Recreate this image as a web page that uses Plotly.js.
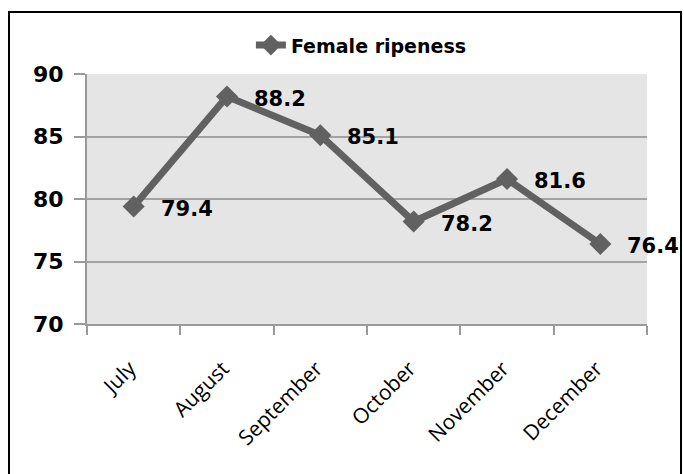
<!DOCTYPE html>
<html>
<head>
<meta charset="utf-8">
<script src="https://cdn.plot.ly/plotly-3.0.1.min.js"></script>
<style>
  html, body { margin: 0; padding: 0; background: #ffffff; }
  #wrap { position: relative; width: 684px; height: 474px; overflow: hidden; }
  #chart { position: absolute; left: 0; top: 0; width: 684px; height: 474px; }
  #frame { position: absolute; left: 8px; top: 11px; width: 670px; height: 470px;
           border: 2px solid #000; pointer-events: none; }
</style>
</head>
<body>
<div id="wrap">
  <div id="chart"></div>
  <div id="frame"></div>
</div>
<script>
const months = ["July", "August", "September", "October", "November", "December"];
const ripeness = [79.4, 88.2, 85.1, 78.2, 81.6, 76.4];
const seriesName = "Female ripeness";
const yTicks = [70, 75, 80, 85, 90];

const lineColor = "#616161";

const trace = {
  type: "scatter",
  mode: "lines+markers",
  name: seriesName,
  x: months,
  y: ripeness,
  line: { color: lineColor, width: 7 },
  marker: { symbol: "diamond", size: 17, color: lineColor },
  hoverinfo: "skip"
};

const annotations = months.map((m, i) => ({
  x: m, y: ripeness[i], xref: "x", yref: "y",
  text: ripeness[i].toFixed(1),
  showarrow: false, xanchor: "left", yanchor: "middle",
  xshift: 25, yshift: -2,
  font: { family: "DejaVu Sans", size: 21, color: "#000000", weight: "bold" }
}));

const layout = {
  width: 684, height: 474,
  margin: { l: 87, r: 37, t: 74, b: 150 },
  paper_bgcolor: "#ffffff",
  plot_bgcolor: "#e5e5e5",
  showlegend: true,
  legend: {
    orientation: "h", x: 0.49, xanchor: "center", y: 1.115, yanchor: "middle",
    font: { family: "DejaVu Sans", size: 19, color: "#000000", weight: "bold" },
    bgcolor: "rgba(0,0,0,0)"
  },
  xaxis: {
    type: "category",
    range: [-0.5, 5.5],
    tickson: "boundaries",
    ticks: "outside", ticklen: 9, tickcolor: "#9a9a9a", tickwidth: 2,
    showline: true, linecolor: "#9a9a9a", linewidth: 2,
    showgrid: false,
    tickangle: -45,
    ticklabelstandoff: 22,
    ticklabelshift: -4,
    tickfont: { family: "Open Sans", size: 21, color: "#000000" },
    fixedrange: true
  },
  yaxis: {
    range: [70, 90],
    tickvals: yTicks,
    ticktext: yTicks.map(String),
    ticks: "outside", ticklen: 11, tickcolor: "#9a9a9a", tickwidth: 2,
    showline: true, linecolor: "#9a9a9a", linewidth: 2,
    showgrid: true, gridcolor: "#a3a3a3", gridwidth: 2,
    zeroline: false,
    ticklabelstandoff: 6,
    tickfont: { family: "DejaVu Sans", size: 22, color: "#000000", weight: "bold" },
    fixedrange: true
  },
  annotations: annotations
};

Plotly.newPlot("chart", [trace], layout, { displayModeBar: false, staticPlot: true });
</script>
</body>
</html>
